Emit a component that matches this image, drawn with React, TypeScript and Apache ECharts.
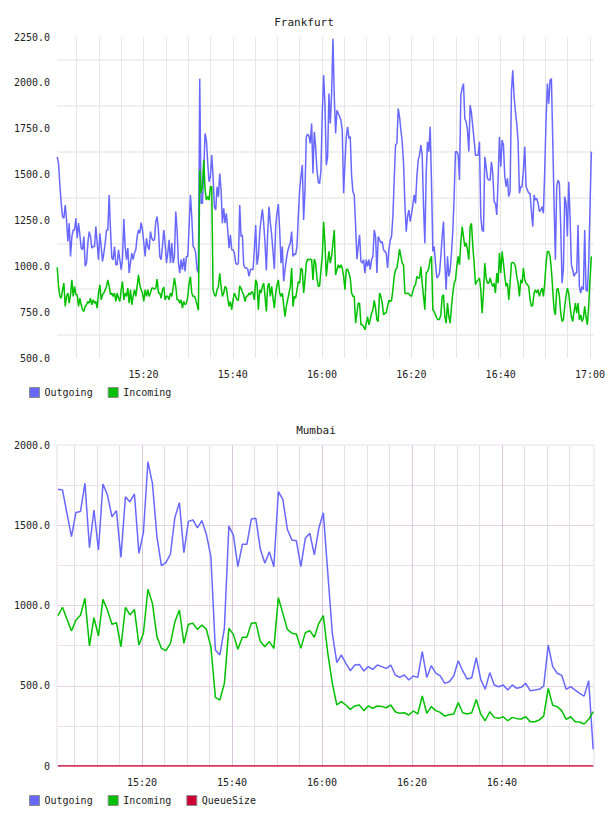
import React, { useEffect, useRef } from 'react';
import * as echarts from 'echarts';

// ---- Frankfurt: samples every ~17.9 s, starting 15:00:41 ----
const FRANKFURT_FIRST_SAMPLE = '15:00:41';
const FRANKFURT_PERIOD_S = 17.9;
const FRANKFURT_WINDOW = ['15:00:38', '17:00:50'];

const frankfurtOutgoing = [
  1597, 1560, 1440, 1343, 1271, 1262, 1334, 1253, 1135,
  1235, 1054, 1162, 1198, 1198, 1262, 1153, 1235, 1171, 1099, 1090, 1162, 1000, 1018, 1127, 1189,
  1162, 1099, 1108, 1108, 1216, 1127, 1036, 1180, 1108, 1027, 1072, 1127, 1198, 1198, 1389, 1198,
  1045, 1036, 1108, 1009, 1009, 1090, 1036, 981, 1036, 1257, 1108, 1036, 1099, 963, 1018, 1072,
  1036, 1072, 1090, 1162, 1198, 1180, 1238, 1198, 1127, 1054, 1153, 1108, 1090, 1189, 1153, 1140,
  1144, 1244, 1271, 1198, 1054, 1036, 1108, 1198, 1127, 1018, 1072, 1144, 1018, 1127, 1018, 1054, 1298,
  1198, 1018, 963, 1036, 981, 1045, 972, 1054, 1054, 1216,
  1389, 1271, 1108, 1099, 1072, 981, 963,
  2023,
  1343, 1343, 1525, 1724, 1688, 1561, 1461, 1488, 1606, 1488, 1325, 1307, 1434, 1380, 1506, 1416,
  1235, 1316, 1235, 1289, 1198, 1099, 1171, 1090, 1090, 1072, 1018, 1009,
  1017, 1334, 1162, 1171, 1009, 991, 991, 985, 945, 981,
  985, 981, 1090, 1225, 1009, 1054, 1180, 1253, 1311, 1235,
  1127, 977, 1180, 1325, 1235, 1171, 1081, 985, 1216, 1289,
  1339, 1198, 1017, 1108, 918, 981, 1036, 1081, 1108, 1127,
  1189, 1054, 1068, 1063, 1108, 1271, 1416, 1488, 1552, 1253,
  1416, 1706, 1720, 1709, 1670, 1778, 1506, 1733, 1652, 1525,
  1456, 1452, 1525, 1833, 2042, 1887, 1552, 1597, 1942, 1778,
  1942, 2240, 1924, 1724, 1851, 1833, 1815, 1797, 1742, 1398,
  1561, 1706, 1760, 1697, 1706, 1497, 1407, 1389, 1225, 1039,
  1108, 1171, 1027, 1017, 1036, 963, 1036, 1000, 1036, 981,
  1036, 1054, 1198, 1162, 963, 1162, 1144, 1127, 1135, 1090,
  1081, 1072, 991, 1090, 1140, 1162, 1271, 1470, 1661, 1670,
  1860, 1815, 1742, 1679, 1561, 1343, 1189, 1271, 1307, 1244,
  1289, 1334, 1389, 1343, 1488,
  1579, 1606, 1661, 1606, 1325, 1125, 1506, 1679, 1625, 1760,
  1452, 1081, 1108, 1017, 936, 945, 963, 1054, 1162, 1244,
  1017, 872, 1054, 945, 981, 1072, 1198, 1380, 1625, 1625,
  1606, 1470, 1933, 1969, 1996, 1806, 1788, 1742, 1625, 1879,
  1833, 1760, 1688, 1606, 1606, 1606, 1679, 1271, 1198, 1189,
  1597, 1543, 1479, 1470, 1470, 1570, 1506, 1352, 1343, 1280,
  1470, 1706, 1543, 1688, 1661, 1488, 1434, 1479, 1380, 1407,
  1951, 2069, 1924, 1842, 1778, 1679, 1398, 1434, 1434, 1525,
  1652, 1434, 1416, 1398, 1398, 1298, 1216, 1389, 1361, 1370,
  1343, 1298, 1307, 1325, 1289, 1525, 1797, 1996, 1887, 2014,
  2023, 1688, 1343, 1036, 1434, 1470, 1452, 1216, 908, 981,
  1380, 1343, 1162, 1461, 1271, 1009, 981, 945, 963, 963,
  1225, 890, 854, 890, 872, 1198, 872, 863, 1017, 1325,
  1625,
];

const frankfurtIncoming = [
  995, 890, 836, 826, 872, 908, 781, 836, 854,
  799, 845, 926, 836, 890, 845, 845, 781, 826, 790, 763, 754, 781, 790, 808, 799,
  826, 790, 817, 799, 808, 772, 854, 899, 817, 845, 854, 872, 890, 926, 890, 845,
  854, 836, 854, 808, 854, 826, 808, 872, 917, 817, 854, 836, 881, 799, 872, 790,
  836, 872, 836, 890, 953, 899, 872, 854, 808, 872, 836, 872, 836, 854, 881, 881,
  876, 881, 930, 854, 854, 826, 872, 886, 817, 836, 836, 817, 854, 836, 881, 935, 890,
  817, 817, 799, 817, 772, 808, 790, 799, 836, 908,
  944, 854, 836, 836, 817, 790, 760,
  1525,
  1400, 1434, 1579, 1416, 1361, 1380, 1361, 1434, 1434, 872, 845, 836, 872, 890, 962, 890,
  836, 854, 890, 881, 826, 781, 808, 763, 817, 854, 836, 817,
  814, 893, 880, 860, 844, 808, 836, 839, 854, 845,
  863, 854, 817, 926, 908, 763, 872, 854, 890, 908,
  836, 754, 890, 908, 836, 890, 826, 772, 854, 899,
  926, 854, 836, 854, 790, 726, 781, 817, 854, 890,
  990, 781, 836, 826, 872, 917, 908, 990, 981, 854,
  926, 1017, 1039, 1036, 1039, 1036, 926, 1039, 1017, 936,
  890, 893, 981, 1054, 1243, 1127, 945, 1017, 1081, 1017,
  1054, 1127, 1198, 953, 981, 1008, 990, 1008, 990, 945,
  872, 981, 985, 963, 936, 854, 836, 836, 690, 744,
  799, 799, 681, 681, 672, 654, 690, 726, 681, 708,
  744, 763, 814, 772, 708, 699, 854, 836, 799, 735,
  744, 748, 781, 814, 808, 814, 872, 945, 981, 990,
  1036, 1094, 1054, 1017, 1008, 854, 850, 854, 850, 841,
  836, 863, 890, 899, 945,
  936, 936, 999, 908, 836, 763, 963, 972, 990, 1036,
  1054, 763, 754, 735, 717, 708, 712, 735, 836, 845,
  726, 690, 799, 726, 690, 781, 854, 908, 926, 999,
  1054, 1008, 1127, 1216, 1162, 1108, 1127, 1090, 1036, 1216,
  1234, 1108, 1017, 899, 917, 926, 936, 872, 744, 854,
  1017, 936, 908, 908, 936, 908, 890, 908, 854, 963,
  908, 1072, 963, 1081, 1017, 945, 890, 908, 817, 908,
  1017, 1021, 1017, 999, 945, 908, 836, 926, 908, 990,
  926, 908, 899, 890, 817, 781, 790, 854, 872, 854,
  872, 836, 863, 881, 836, 908, 1017, 1081, 1081, 1054,
  981, 872, 763, 735, 872, 881, 836, 744, 699, 708,
  781, 836, 881, 854, 781, 726, 699, 754, 799, 744,
  799, 708, 735, 699, 717, 781, 726, 681, 781, 926,
  1054,
];

const FRANKFURT_Y_TICKS = [500, 750, 1000, 1250, 1500, 1750, 2000, 2250];

// ---- Mumbai: one sample per minute, starting 15:01:18 ----
const MUMBAI_FIRST_SAMPLE = '15:01:18';
const MUMBAI_PERIOD_S = 60;
const MUMBAI_WINDOW = ['15:01:05', '17:00:29'];

const mumbaiOutgoing = [
  1724, 1720, 1574, 1429, 1580, 1585, 1761, 1360, 1595, 1346,
  1757, 1688, 1553, 1591, 1300, 1678, 1645, 1695, 1325, 1456,
  1896, 1761, 1429, 1248, 1267, 1321, 1549, 1641, 1329, 1524,
  1533, 1483, 1529, 1443, 1304, 723, 692, 858, 1495, 1439,
  1242, 1381, 1381, 1539, 1543, 1350, 1263, 1335, 1242, 1709,
  1661, 1475, 1408, 1404, 1242, 1419, 1450, 1315, 1481, 1578,
  1200, 827, 644, 692, 640, 594, 629, 633, 592, 619,
  602, 629, 619, 608, 629, 567, 552, 567, 536, 561,
  552, 712, 552, 625, 578, 561, 515, 525, 561, 656,
  592, 542, 550, 675, 540, 478, 582, 505, 494, 505,
  473, 505, 484, 490, 515, 469, 473, 478, 498, 754,
  619, 578, 565, 478, 494, 473, 453, 436, 532, 104,
];

const mumbaiIncoming = [
  937, 989, 916, 841, 910, 939, 1045, 748, 924, 810,
  1038, 972, 883, 893, 743, 989, 941, 976, 754, 827,
  1101, 1013, 806, 733, 719, 764, 899, 972, 764, 883,
  889, 851, 878, 851, 743, 428, 411, 515, 858, 820,
  727, 802, 802, 889, 893, 775, 743, 775, 733, 1049,
  951, 851, 827, 822, 733, 831, 843, 802, 889, 937,
  702, 515, 380, 401, 380, 353, 374, 380, 345, 374,
  359, 374, 370, 363, 380, 338, 328, 332, 318, 343,
  324, 436, 328, 370, 345, 334, 311, 320, 324, 395,
  332, 324, 332, 415, 324, 282, 338, 303, 297, 307,
  282, 303, 295, 293, 307, 276, 276, 287, 311, 484,
  378, 370, 345, 291, 307, 276, 274, 262, 291, 338,
];

const mumbaiQueueSize = [
  0, 0, 0, 0, 0, 0, 0, 0, 0, 0, 0, 0, 0, 0, 0, 0, 0, 0, 0, 0,
  0, 0, 0, 0, 0, 0, 0, 0, 0, 0, 0, 0, 0, 0, 0, 0, 0, 0, 0, 0,
  0, 0, 0, 0, 0, 0, 0, 0, 0, 0, 0, 0, 0, 0, 0, 0, 0, 0, 0, 0,
  0, 0, 0, 0, 0, 0, 0, 0, 0, 0, 0, 0, 0, 0, 0, 0, 0, 0, 0, 0,
  0, 0, 0, 0, 0, 0, 0, 0, 0, 0, 0, 0, 0, 0, 0, 0, 0, 0, 0, 0,
  0, 0, 0, 0, 0, 0, 0, 0, 0, 0, 0, 0, 0, 0, 0, 0, 0, 0, 0, 0,
];

const MUMBAI_Y_TICKS = [0, 500, 1000, 1500, 2000];

const TIME_LABEL_EVERY_MIN = 20;
const GRID_STEP_MIN = 5;

// ---- styling ----
const MONO = '"DejaVu Sans Mono", "Liberation Mono", monospace';
const TEXT = '#222';
const BLUE = '#6868ff';
const GREEN = '#00c000';
const CRIMSON = '#cc0033';
const CLEAR = 'rgba(0,0,0,0)';

const BASE_HOUR = 15;

// 'HH:MM:SS' -> minutes after 15:00
function toMinutes(hms: string): number {
  const [h, m, s] = hms.split(':').map(Number);
  return (h - BASE_HOUR) * 60 + m + s / 60;
}

function clockLabel(min: number): string {
  const total = Math.round(min);
  const h = BASE_HOUR + Math.floor(total / 60);
  const m = total % 60;
  return `${h}:${m < 10 ? '0' : ''}${m}`;
}

function sampleTimes(first: string, periodS: number, count: number): number[] {
  const t0 = toMinutes(first);
  return Array.from({ length: count }, (_, i) => t0 + (i * periodS) / 60);
}

// Tick values ECharts produces for a fixed [min, max] window with a fixed step
function tickValues(min: number, max: number, step: number): number[] {
  const out = [min];
  for (let v = Math.ceil(min / step) * step; v < max; v += step) {
    if (v > min) out.push(v);
  }
  out.push(max);
  return out;
}

function pairs(times: number[], values: number[]) {
  return values.map((v, i) => [times[i], v]);
}

export default function App() {
  const ref = useRef<HTMLDivElement>(null);

  useEffect(() => {
    if (!ref.current) return;
    const chart = echarts.init(ref.current, undefined, { renderer: 'svg' });

    const fMin = toMinutes(FRANKFURT_WINDOW[0]);
    const fMax = toMinutes(FRANKFURT_WINDOW[1]);
    const mMin = toMinutes(MUMBAI_WINDOW[0]);
    const mMax = toMinutes(MUMBAI_WINDOW[1]);

    const fTimes = sampleTimes(FRANKFURT_FIRST_SAMPLE, FRANKFURT_PERIOD_S, frankfurtOutgoing.length);
    const mTimes = sampleTimes(MUMBAI_FIRST_SAMPLE, MUMBAI_PERIOD_S, mumbaiOutgoing.length);

    // vertical grid colours, one per tick (window edges left clear)
    const fxTicks = tickValues(fMin, fMax, GRID_STEP_MIN);
    const fxColors = fxTicks.map((v, i) => (i === 0 || i === fxTicks.length - 1 ? CLEAR : '#e6e6e6'));
    const mxTicks = tickValues(mMin, mMax, GRID_STEP_MIN);
    const mxColors = mxTicks.map((v, i) => {
      if (i === 0 || i === mxTicks.length - 1 || v >= 120) return CLEAR;
      return v % TIME_LABEL_EVERY_MIN === 0 ? '#dcc6dc' : '#e6e0e6';
    });

    // horizontal grid colours: Frankfurt lines sit half-way between labels
    const fyStep = (FRANKFURT_Y_TICKS[1] - FRANKFURT_Y_TICKS[0]) / 2;
    const fyTicks: number[] = [];
    for (let v = FRANKFURT_Y_TICKS[0]; v <= FRANKFURT_Y_TICKS[FRANKFURT_Y_TICKS.length - 1]; v += fyStep) fyTicks.push(v);
    const fyColors = fyTicks.map((v) => (FRANKFURT_Y_TICKS.includes(v) ? CLEAR : '#f0f0f0'));

    const myStep = (MUMBAI_Y_TICKS[1] - MUMBAI_Y_TICKS[0]) / 2;
    const myTicks: number[] = [];
    for (let v = MUMBAI_Y_TICKS[0]; v <= MUMBAI_Y_TICKS[MUMBAI_Y_TICKS.length - 1]; v += myStep) myTicks.push(v);
    const myColors = myTicks.map((v, i) => {
      if (i === 0 || i === myTicks.length - 1) return CLEAR;
      return MUMBAI_Y_TICKS.includes(v) ? '#e6d2e6' : '#e8e2e8';
    });

    const timeAxis = (gridIndex: number, min: number, max: number, colors: string[], showLast: boolean) => ({
      gridIndex,
      type: 'value',
      min,
      max,
      splitNumber: 24,
      minInterval: GRID_STEP_MIN,
      maxInterval: GRID_STEP_MIN,
      axisLine: { show: false },
      axisTick: { show: false },
      axisLabel: {
        margin: 11,
        fontFamily: MONO,
        fontSize: 10,
        color: TEXT,
        showMinLabel: true,
        showMaxLabel: true,
        formatter: (v: number) => {
          const r = Math.round(v * 1000) / 1000;
          if (Math.abs(r - Math.round(r)) > 1e-6) return '';
          if (Math.round(r) % TIME_LABEL_EVERY_MIN !== 0) return '';
          if (!showLast && Math.round(r) >= 120) return '';
          return clockLabel(r);
        },
      },
      splitLine: { show: true, lineStyle: { color: colors, width: 1 } },
    });

    const lineSeries = (name: string, color: string, data: number[][], axis: number) => ({
      name,
      type: 'line',
      xAxisIndex: axis,
      yAxisIndex: axis,
      data,
      symbol: 'none',
      showSymbol: false,
      lineStyle: { color, width: 1.5 },
      itemStyle: { color },
      emphasis: { disabled: true },
    });

    const legendBase = {
      left: 24,
      icon: 'rect',
      itemWidth: 10,
      itemHeight: 10,
      itemGap: 15,
      selectedMode: false,
      itemStyle: { borderColor: '#8c8c8c', borderWidth: 1 },
      textStyle: { fontFamily: MONO, fontSize: 10, color: TEXT, padding: [0, 0, 0, 0] },
    };

    const titleText = { fontFamily: MONO, fontSize: 11, fontWeight: 'normal', color: TEXT };

    chart.setOption({
      animation: false,
      backgroundColor: '#ffffff',
      textStyle: { fontFamily: MONO },
      title: [
        { text: 'Frankfurt', left: 'center', top: 12, textStyle: titleText },
        { text: 'Mumbai', left: 311, textAlign: 'center', top: 420, textStyle: titleText },
      ],
      legend: [
        { ...legendBase, top: 382, data: ['Outgoing', 'Incoming'] },
        { ...legendBase, top: 790, data: ['Outgoing', 'Incoming', 'QueueSize'] },
      ],
      grid: [
        { left: 57, top: 37, width: 537, height: 321, show: false },
        { left: 57, top: 445, width: 537, height: 321, show: true, borderColor: '#ecdcec', borderWidth: 1, backgroundColor: CLEAR },
      ],
      xAxis: [
        timeAxis(0, fMin, fMax, fxColors, true),
        timeAxis(1, mMin, mMax, mxColors, false),
      ],
      yAxis: [
        {
          gridIndex: 0,
          type: 'value',
          min: FRANKFURT_Y_TICKS[0],
          max: FRANKFURT_Y_TICKS[FRANKFURT_Y_TICKS.length - 1],
          interval: fyStep,
          axisLine: { show: false },
          axisTick: { show: false },
          axisLabel: {
            margin: 7,
            fontFamily: MONO,
            fontSize: 10,
            color: TEXT,
            formatter: (v: number) => (FRANKFURT_Y_TICKS.includes(v) ? v.toFixed(1) : ''),
          },
          splitLine: { show: true, lineStyle: { color: fyColors, width: 2 } },
        },
        {
          gridIndex: 1,
          type: 'value',
          min: MUMBAI_Y_TICKS[0],
          max: MUMBAI_Y_TICKS[MUMBAI_Y_TICKS.length - 1],
          interval: myStep,
          axisLine: { show: false },
          axisTick: { show: false },
          axisLabel: {
            margin: 7,
            fontFamily: MONO,
            fontSize: 10,
            color: TEXT,
            formatter: (v: number) => (MUMBAI_Y_TICKS.includes(v) ? (v === 0 ? '0' : v.toFixed(1)) : ''),
          },
          splitLine: { show: true, lineStyle: { color: myColors, width: 1 } },
        },
      ],
      series: [
        lineSeries('Outgoing', BLUE, pairs(fTimes, frankfurtOutgoing), 0),
        lineSeries('Incoming', GREEN, pairs(fTimes, frankfurtIncoming), 0),
        lineSeries('Outgoing', BLUE, pairs(mTimes, mumbaiOutgoing), 1),
        lineSeries('Incoming', GREEN, pairs(mTimes, mumbaiIncoming), 1),
        lineSeries('QueueSize', CRIMSON, pairs(mTimes, mumbaiQueueSize), 1),
      ],
    });

    return () => chart.dispose();
  }, []);

  return (
    <div
      ref={ref}
      style={{ position: 'absolute', left: 0, top: 0, width: 608, height: 816, background: '#fff' }}
    />
  );
}
